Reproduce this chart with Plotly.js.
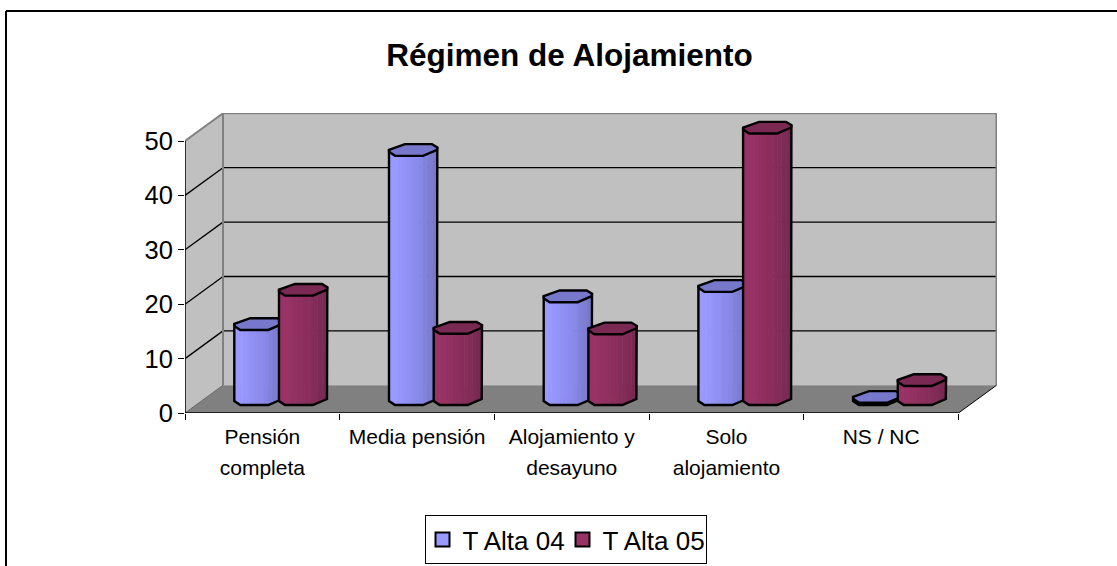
<!DOCTYPE html>
<html>
<head>
<meta charset="utf-8">
<script src="https://cdn.plot.ly/plotly-3.0.1.min.js"></script>
<style>html,body{margin:0;padding:0;background:#fff;overflow:hidden}#c{width:1117px;height:566px}</style>
</head>
<body>
<div id="c"></div>
<script>
const categories = ["Pensión<br>completa", "Media pensión", "Alojamiento y<br>desayuno", "Solo<br>alojamiento", "NS / NC"];
const seriesNames = ["T Alta 04", "T Alta 05"];
const tAlta04 = [13.8, 45.8, 18.9, 20.8, 0.4];
const tAlta05 = [20.1, 13.1, 13, 49.9, 3.5];
const yTicks = [0, 10, 20, 30, 40, 50];

// scale and pseudo-3D geometry (in pixels per data unit)
const catPx = 154.7, valPx = 5.44, depthX = 38, depthY = 27.7;
const plotLeft = 185, plotBottom = 413, plotW = 812, plotH = 300;
const dxu = depthX / catPx, dyu = depthY / valPx;
const pxX = p => p / catPx, pxY = p => p / valPx;
const barStart = 49.3, barStep = 44.7, baseLift = 13;
// octagon outline relative to the leftmost base point (px, y down)
const oct = [[0, 1], [6, 5], [34, 5], [48, -1], [48.3, -3.5], [43, -6.7], [16, -6.7], [4, -3], [0, -1]];
const frontEnd = 2, sideEnd = 3, lastTop = 4, firstTop = 8;
const palettes = [
  {from: [153, 153, 255], mid: [135, 135, 232], side: [120, 120, 200], top: "#7777CC"},
  {from: [153, 51, 102], mid: [135, 45, 90], side: [120, 41, 82], top: "#7A2952"}
];

const shapes = [];
const wall = "#C0C0C0", floorC = "#808080", edge = "#808080";
function poly(pts, fill) {
  const path = pts.map((p, i) => (i ? "L" : "M") + p[0] + "," + p[1]).join("") + "Z";
  shapes.push({type: "path", xref: "x", yref: "y", layer: "below", path, fillcolor: fill, line: {color: fill, width: 0}});
}
function seg(a, b, c, w) {
  shapes.push({type: "line", xref: "x", yref: "y", layer: "below", x0: a[0], y0: a[1], x1: b[0], y1: b[1],
    line: {color: c, width: w}});
}
const nCat = categories.length, topVal = yTicks[yTicks.length - 1];
poly([[dxu, dyu], [nCat + dxu, dyu], [nCat + dxu, topVal + dyu], [dxu, topVal + dyu]], wall);
poly([[0, 0], [dxu, dyu], [dxu, topVal + dyu], [0, topVal]], wall);
poly([[0, 0], [nCat, 0], [nCat + dxu, dyu], [dxu, dyu]], floorC);
yTicks.filter(v => v > 0 && v < topVal).forEach(v => {
  seg([0, v], [dxu, v + dyu], "#000", 1.3);
  seg([dxu, v + dyu], [nCat + dxu, v + dyu], "#000", 1.3);
});
seg([0, topVal], [dxu, topVal + dyu], edge, 2);
seg([dxu, topVal + dyu], [nCat + dxu, topVal + dyu], edge, 2);
seg([nCat + dxu, topVal + dyu], [nCat + dxu, dyu], edge, 2);
seg([dxu, topVal + dyu], [dxu, dyu], edge, 2);
seg([0, 0], [dxu, dyu], "#666", 1);
seg([nCat, 0], [nCat + dxu, dyu], "#000", 1);
seg([0, 0], [0, topVal], "#000", 1.5);
seg([0, 0], [nCat, 0], "#000", 1.5);
// outer frame of the chart area
shapes.push({type: "line", xref: "paper", yref: "paper", layer: "below",
  x0: (6 - plotLeft) / plotW, x1: (1117 - plotLeft) / plotW, y0: (plotBottom - 11) / plotH, y1: (plotBottom - 11) / plotH,
  line: {color: "#000", width: 2}});
shapes.push({type: "line", xref: "paper", yref: "paper", layer: "below",
  x0: (6 - plotLeft) / plotW, x1: (6 - plotLeft) / plotW, y0: (plotBottom - 11) / plotH, y1: (plotBottom - 566) / plotH,
  line: {color: "#000", width: 2}});

const mix = (a, b, t) => "rgb(" + a.map((v, i) => Math.round(v + (b[i] - v) * t)).join(",") + ")";
const baseX = (c, s) => pxX(barStart + c * catPx + s * barStep);
const baseY = pxY(baseLift);
const pt = (x0, v, o) => [x0 + pxX(o[0]), baseY + v + pxY(-o[1])];
const traces = [];
const outlineW = 2.4;

// real bars: the body of each column; the facets below are laid over them
[tAlta04, tAlta05].forEach((vals, s) => {
  traces.push({
    type: "bar", name: seriesNames[s], showlegend: false,
    x: vals.map((_, c) => baseX(c, s) + pxX(18)),
    y: vals, base: vals.map(() => baseY + pxY(1.5)),
    width: pxX(24),
    marker: {color: mix(palettes[s].from, palettes[s].from, 0)},
    hoverinfo: "y+name"
  });
});

function addPoly(pts, fill, lineW) {
  traces.push({type: "scatter", mode: "lines", x: pts.map(p => p[0]).concat(pts[0][0]), y: pts.map(p => p[1]).concat(pts[0][1]),
    fill: "toself", fillcolor: fill, line: {color: lineW ? "#000" : fill, width: lineW || 0.5},
    hoverinfo: "skip", showlegend: false, cliponaxis: false});
}
const lerp = (a, b, t) => [a[0] + (b[0] - a[0]) * t, a[1] + (b[1] - a[1]) * t];
function strip(x0, v, a, b, fill) {
  addPoly([pt(x0, 0, a), pt(x0, 0, b), pt(x0, v, b), pt(x0, v, a)], fill);
}
categories.forEach((_, c) => {
  [tAlta04, tAlta05].forEach((vals, s) => {
    const v = vals[c], x0 = baseX(c, s), pal = palettes[s];
    strip(x0, v, oct[0], oct[1], mix(pal.from, pal.from, 0));
    const n = 8;
    for (let i = 0; i < n; i++) {
      strip(x0, v, lerp(oct[1], oct[frontEnd], i / n), lerp(oct[1], oct[frontEnd], (i + 1) / n), mix(pal.from, pal.mid, i / (n - 1)));
    }
    for (let i = 0; i < 3; i++) {
      strip(x0, v, lerp(oct[frontEnd], oct[sideEnd], i / 3), lerp(oct[frontEnd], oct[sideEnd], (i + 1) / 3), mix(pal.mid, pal.side, (i + 1) / 3));
    }
    addPoly(oct.map(o => pt(x0, v, o)), pal.top, outlineW);
    const sil = [pt(x0, v, oct[firstTop]), pt(x0, 0, oct[0]), pt(x0, 0, oct[1]), pt(x0, 0, oct[frontEnd]), pt(x0, 0, oct[sideEnd]), pt(x0, v, oct[lastTop])];
    traces.push({type: "scatter", mode: "lines", x: sil.map(p => p[0]), y: sil.map(p => p[1]),
      line: {color: "#000", width: outlineW}, hoverinfo: "skip", showlegend: false, cliponaxis: false});
  });
});
// legend swatches
seriesNames.forEach((name, s) => {
  traces.push({type: "scatter", mode: "markers", name, x: [null], y: [null],
    marker: {symbol: "square", size: 14, color: mix(palettes[s].from, palettes[s].from, 0), line: {color: "#000", width: 2}},
    hoverinfo: "skip", showlegend: true});
});

const font = "'Liberation Sans', Arial, sans-serif";
const labelText = categories.map(t => t.split("<br>").map(l => '<span style="font-size:21px">' + l + "</span>").join("<br>"));
const layout = {
  width: 1117, height: 566,
  margin: {l: plotLeft, r: 1117 - plotLeft - plotW, t: plotBottom - plotH, b: 566 - plotBottom, autoexpand: false},
  paper_bgcolor: "#fff", plot_bgcolor: "#fff",
  barmode: "overlay",
  font: {family: font, color: "#000"},
  title: {text: "<b>Régimen de Alojamiento</b>", font: {family: font, size: 31.5, color: "#000"},
    x: 569.5 / 1117, xref: "container", xanchor: "center", y: 1 - 55 / 566, yref: "container", yanchor: "middle"},
  xaxis: {
    range: [0, plotW / catPx], showgrid: false, zeroline: false, showline: false,
    tickmode: "array", tickvals: categories.map((_, i) => i + 0.5), ticktext: labelText,
    ticks: "outside", ticklen: 1, tickcolor: "rgba(0,0,0,0)", tickangle: 0,
    tickfont: {family: font, size: 24, color: "#000"},
    minor: {tickmode: "array", tickvals: categories.map((_, i) => i).concat(nCat), ticks: "outside", ticklen: 6, tickcolor: "#000", tickwidth: 1, showgrid: false}
  },
  yaxis: {
    range: [0, plotH / valPx], showgrid: false, zeroline: false, showline: false,
    tickmode: "array", tickvals: yTicks, ticks: "outside", ticklen: 6, tickcolor: "#000", tickwidth: 1,
    tickfont: {family: font, size: 25.5, color: "#000"}
  },
  legend: {orientation: "h", xref: "paper", yref: "paper", x: (424.5 - plotLeft) / plotW, y: (plotBottom - 515) / plotH, xanchor: "left", yanchor: "top",
    indentation: -3, entrywidth: 98, entrywidthmode: "pixels",
    bgcolor: "#fff", bordercolor: "#000", borderwidth: 1, font: {family: font, size: 26, color: "#000"}},
  shapes,
  showlegend: true
};
Plotly.newPlot("c", traces, layout, {displayModeBar: false, staticPlot: true});
</script>
</body>
</html>
